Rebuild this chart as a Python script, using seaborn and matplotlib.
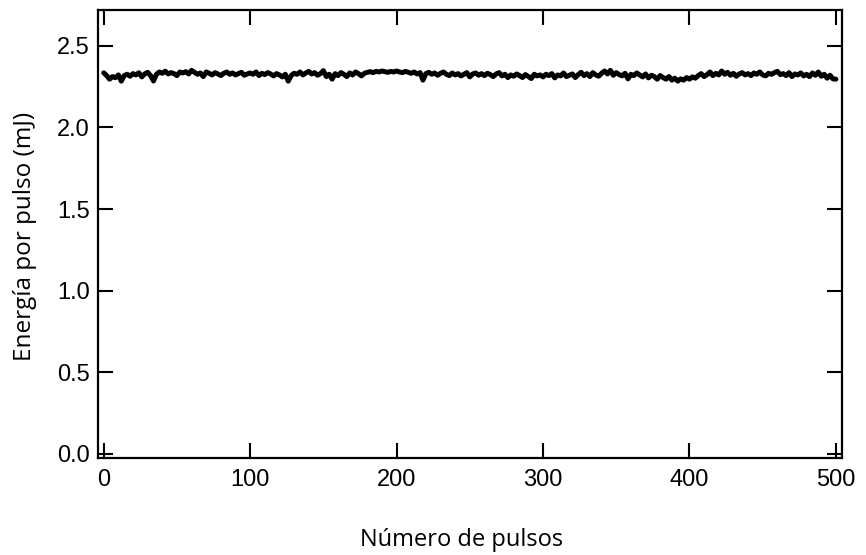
import numpy as np
import pandas as pd
import seaborn as sns
import matplotlib.pyplot as plt

# energy per pulse (mJ), read every 2 pulses from the reference
pulses = list(range(0, 501, 2))
energy = [
    2.335, 2.318, 2.296, 2.312, 2.305, 2.322, 2.284, 2.318, 2.326, 2.314,
    2.330, 2.322, 2.335, 2.310, 2.328, 2.338, 2.318, 2.285, 2.326, 2.340,
    2.332, 2.345, 2.328, 2.336, 2.330, 2.318, 2.340, 2.334, 2.342, 2.328,
    2.350, 2.338, 2.326, 2.334, 2.312, 2.340, 2.332, 2.322, 2.336, 2.328,
    2.318, 2.332, 2.340, 2.326, 2.334, 2.322, 2.330, 2.338, 2.320, 2.328,
    2.334, 2.326, 2.340, 2.318, 2.332, 2.324, 2.336, 2.328, 2.316, 2.330,
    2.322, 2.310, 2.326, 2.284, 2.318, 2.332, 2.326, 2.340, 2.322, 2.334,
    2.344, 2.328, 2.336, 2.320, 2.330, 2.348, 2.312, 2.326, 2.296, 2.330,
    2.318, 2.336, 2.326, 2.312, 2.334, 2.322, 2.340, 2.330, 2.316, 2.332,
    2.338, 2.342, 2.336, 2.344, 2.340, 2.346, 2.342, 2.338, 2.344, 2.340,
    2.346, 2.340, 2.336, 2.344, 2.338, 2.332, 2.340, 2.328, 2.336, 2.290,
    2.330, 2.338, 2.326, 2.334, 2.320, 2.332, 2.340, 2.326, 2.318, 2.334,
    2.322, 2.330, 2.316, 2.326, 2.336, 2.310, 2.328, 2.334, 2.320, 2.330,
    2.318, 2.332, 2.324, 2.312, 2.328, 2.336, 2.316, 2.326, 2.306, 2.322,
    2.314, 2.328, 2.318, 2.306, 2.324, 2.312, 2.300, 2.326, 2.316, 2.322,
    2.310, 2.326, 2.318, 2.330, 2.304, 2.322, 2.316, 2.334, 2.312, 2.320,
    2.328, 2.306, 2.324, 2.338, 2.318, 2.330, 2.312, 2.336, 2.322, 2.314,
    2.332, 2.346, 2.328, 2.350, 2.320, 2.336, 2.324, 2.316, 2.332, 2.298,
    2.326, 2.318, 2.334, 2.322, 2.310, 2.328, 2.304, 2.320, 2.312, 2.296,
    2.318, 2.306, 2.296, 2.312, 2.290, 2.302, 2.284, 2.298, 2.290, 2.306,
    2.296, 2.310, 2.302, 2.318, 2.330, 2.312, 2.324, 2.340, 2.318, 2.332,
    2.322, 2.346, 2.326, 2.338, 2.320, 2.332, 2.314, 2.328, 2.336, 2.322,
    2.330, 2.318, 2.334, 2.326, 2.340, 2.322, 2.316, 2.332, 2.326, 2.336,
    2.344, 2.324, 2.330, 2.318, 2.336, 2.312, 2.328, 2.322, 2.334, 2.316,
    2.326, 2.312, 2.334, 2.320, 2.340, 2.314, 2.326, 2.302, 2.320, 2.298,
    2.296,
]

x_ticks = [0, 100, 200, 300, 400, 500]
y_ticks = [0.0, 0.5, 1.0, 1.5, 2.0, 2.5]

df = pd.DataFrame({"pulso": pulses, "energia": energy})

sns.set_style("ticks")
plt.rcParams["font.family"] = ["Liberation Sans", "DejaVu Sans"]

fig = plt.figure(figsize=(8.66, 5.55), dpi=100)
ax = fig.add_axes([0.113, 0.175, 0.859, 0.807])

sns.lineplot(data=df, x="pulso", y="energia", color="black", linewidth=3.6, ax=ax)

ax.set_xlim(-4, 504)
ax.set_ylim(-0.025, 2.72)
ax.set_xticks(x_ticks)
ax.set_yticks(y_ticks)
ax.set_yticklabels([f"{v:.1f}" for v in y_ticks])

ax.tick_params(direction="in", length=11, width=1.5, top=True, right=True,
               labelsize=17, colors="black")
ax.tick_params(axis="x", pad=8)
ax.tick_params(axis="y", pad=6)
for s in ax.spines.values():
    s.set_linewidth(1.6)
    s.set_color("black")

lab_font = ["Open Sans", "DejaVu Sans"]
ax.set_xlabel("Número de pulsos", fontsize=17, family=lab_font, color="black", va="center")
ax.set_ylabel("Energía por pulso (mJ)", fontsize=17.5, family=lab_font, color="black", va="center")
ax.xaxis.set_label_coords(0.489, -0.183)
ax.yaxis.set_label_coords(-0.098, 0.495)

fig.savefig("out.png", dpi=100)
